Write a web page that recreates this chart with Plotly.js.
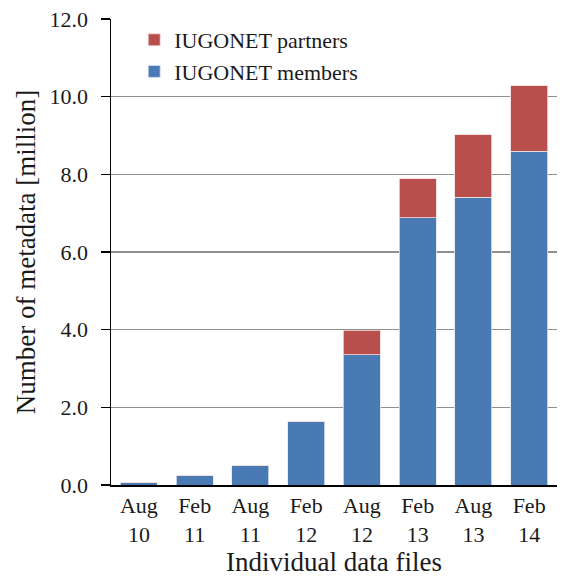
<!DOCTYPE html>
<html>
<head>
<meta charset="utf-8">
<script src="https://cdn.plot.ly/plotly-3.0.1.min.js"></script>
<style>html,body{margin:0;padding:0;background:#fff;}#chart{width:562px;height:580px;}</style>
</head>
<body>
<div id="chart"></div>
<script>
const categories = ["Aug<br>10", "Feb<br>11", "Aug<br>11", "Feb<br>12", "Aug<br>12", "Feb<br>13", "Aug<br>13", "Feb<br>14"];
const members = [0.06, 0.24, 0.49, 1.63, 3.35, 6.88, 7.41, 8.60];
const partners = [0, 0, 0, 0, 0.63, 1.01, 1.61, 1.68];
const yTicks = [0, 2, 4, 6, 8, 10, 12];

const font = {family: "Liberation Serif, Times New Roman, serif", color: "#1a1a1a"};

const data = [
  {type: "bar", name: "IUGONET members", x: categories, y: members,
   marker: {color: "#4a7ab4", line: {color: "#dce6f2", width: 0.8}}},
  {type: "bar", name: "IUGONET partners", x: categories, y: partners,
   marker: {color: "#b84f4c", line: {color: "#f2dcdb", width: 0.8}}}
];

const layout = {
  width: 562, height: 580,
  margin: {l: 111, r: 5, t: 19, b: 95},
  barmode: "stack",
  bargap: 0.34,
  paper_bgcolor: "#fff", plot_bgcolor: "#fff",
  font: Object.assign({size: 22}, font),
  showlegend: true,
  legend: {x: 0.052, y: 1.0, xanchor: "left", yanchor: "top", traceorder: "reversed",
           bgcolor: "rgba(0,0,0,0)", font: Object.assign({size: 22}, font),
           itemwidth: 30, tracegroupgap: 0},
  xaxis: {
    type: "category", showgrid: false, showline: true, linecolor: "#000", linewidth: 1.5,
    ticks: "", tickfont: Object.assign({size: 22}, font),
    title: {text: "Individual data files", font: Object.assign({size: 27}, font), standoff: 6}
  },
  yaxis: {
    range: [0, 12], tickvals: yTicks, tickformat: ".1f",
    showgrid: true, gridcolor: "#8f8f8f", gridwidth: 1.4,
    showline: true, linecolor: "#000", linewidth: 1.5,
    ticks: "outside", ticklen: 9, tickcolor: "#000", tickwidth: 1.2,
    ticklabelstandoff: 8,
    tickfont: Object.assign({size: 22}, font),
    zeroline: false,
    title: {text: "Number of metadata [million]", font: Object.assign({size: 27}, font), standoff: 6}
  }
};

Plotly.newPlot("chart", data, layout, {displayModeBar: false, staticPlot: true});
</script>
</body>
</html>
